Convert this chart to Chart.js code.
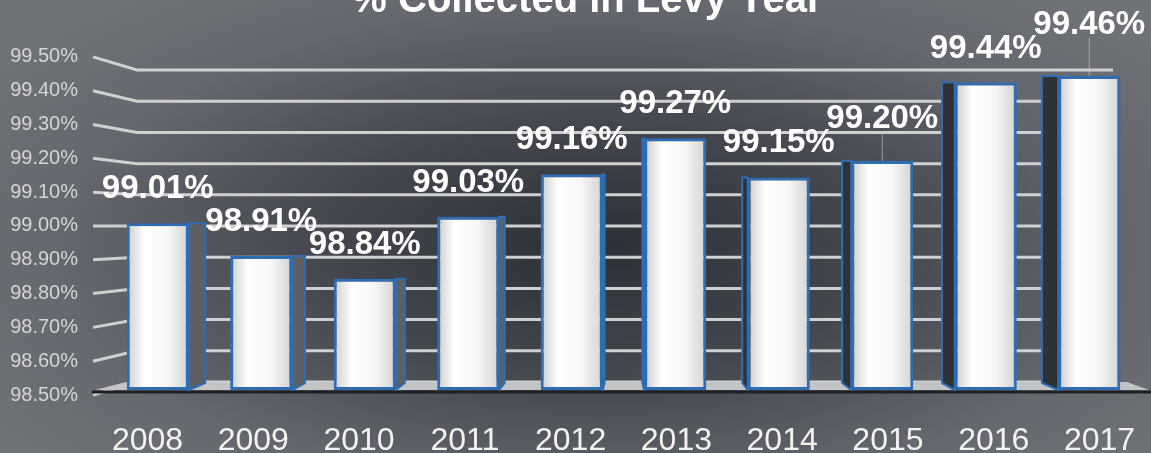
<!DOCTYPE html>
<html>
<head>
<meta charset="utf-8">
<script src="https://cdn.jsdelivr.net/npm/chart.js@4.4.0/dist/chart.umd.min.js"></script>
<style>
  html, body { margin: 0; padding: 0; }
  body {
    width: 1151px; height: 453px; overflow: hidden;
    background: radial-gradient(ellipse 62% 72% at 52% 55%, #2c2f35 0%, #45484e 40%, #64676d 75%, #6f7277 100%);
  }
  canvas { display: block; }
</style>
</head>
<body>
<canvas id="levyChart" width="1151" height="453"></canvas>
<script>
const titleText = "% Collected in Levy Year";
const years = ["2008", "2009", "2010", "2011", "2012", "2013", "2014", "2015", "2016", "2017"];
const collected = [99.01, 98.91, 98.84, 99.03, 99.16, 99.27, 99.15, 99.20, 99.44, 99.46];
const yTicks = [98.5, 98.6, 98.7, 98.8, 98.9, 99.0, 99.1, 99.2, 99.3, 99.4, 99.5];

const ctx = document.getElementById("levyChart").getContext("2d");
const FONT = "'Liberation Sans', Arial, sans-serif";

// back wall and front label plane, both derived from the y scale
const wallY = (chart, v) => {
  const base = chart.chartArea.bottom;
  return base - 8 + (chart.scales.y.getPixelForValue(v) - base) * 0.954;
};
const frontY = (chart, v) => {
  const base = chart.chartArea.bottom;
  return base + 5 + (chart.scales.y.getPixelForValue(v) - base) * 1.034;
};

const barFill = (c) => {
  const chart = c.chart;
  if (!chart.chartArea || c.dataIndex === undefined) return "#f2f2f2";
  const x = chart.scales.x.getPixelForValue(c.dataIndex);
  const half = chart.scales.x.width / years.length * 0.3;
  const g = chart.ctx.createLinearGradient(x - half, 0, x + half, 0);
  g.addColorStop(0, "#cbcbcd");
  g.addColorStop(0.28, "#ffffff");
  g.addColorStop(0.65, "#f7f7f7");
  g.addColorStop(1, "#d3d3d5");
  return g;
};

const scenery = {
  id: "scenery",
  beforeDatasetsDraw(chart) {
    const c = chart.ctx;
    const { left: L, right: R, bottom: B } = chart.chartArea;
    c.save();
    // perspective grid
    c.strokeStyle = "#cfd0d2";
    c.lineWidth = 3;
    yTicks.forEach(v => {
      c.beginPath();
      c.moveTo(L - 13, frontY(chart, v));
      c.lineTo(L + 31, wallY(chart, v));
      c.lineTo(R - 28, wallY(chart, v));
      c.stroke();
    });
    // floor
    c.fillStyle = "#c3c4c6";
    c.beginPath();
    c.moveTo(L - 11, B);
    c.lineTo(L + 20, B - 8);
    c.lineTo(R - 14, B - 8);
    c.lineTo(R + 8, B);
    c.closePath();
    c.fill();
    c.strokeStyle = "#1f2023";
    c.lineWidth = 3;
    c.beginPath();
    c.moveTo(L - 14, B + 2);
    c.lineTo(chart.width, B + 2);
    c.stroke();
    // bar sides
    const vx = (L + R) / 2;
    c.lineJoin = "round";
    chart.getDatasetMeta(0).data.forEach(bar => {
      const s = (vx - bar.x) * 0.035;
      if (Math.abs(s) < 1) return;
      const edge = s > 0 ? bar.x + bar.width / 2 : bar.x - bar.width / 2;
      c.fillStyle = s > 0 ? "#5d5f63" : "#2f3135";
      c.strokeStyle = "#2e6db4";
      c.lineWidth = 2;
      c.beginPath();
      c.moveTo(edge, bar.y);
      c.lineTo(edge + s, bar.y);
      c.lineTo(edge + s, B - 7);
      c.lineTo(edge, B);
      c.closePath();
      c.fill();
      c.stroke();
    });
    c.restore();
  },
  afterDatasetsDraw(chart) {
    const c = chart.ctx;
    const { left: L, right: R, bottom: B } = chart.chartArea;
    c.save();
    // title (sits partly above the picture)
    c.fillStyle = "#ffffff";
    c.textAlign = "center";
    c.textBaseline = "alphabetic";
    c.font = "bold 40px " + FONT;
    c.fillText(titleText, 587, 12);
    // y tick labels
    c.font = "20px " + FONT;
    c.fillStyle = "#d4d5d7";
    c.textAlign = "right";
    c.textBaseline = "middle";
    yTicks.forEach(v => c.fillText(v.toFixed(2) + "%", L - 28, frontY(chart, v)));
    // x labels
    const cx = (L + R) / 2;
    c.font = "32px " + FONT;
    c.fillStyle = "#f2f2f2";
    c.textAlign = "center";
    c.textBaseline = "alphabetic";
    years.forEach((yr, i) => {
      const px = chart.scales.x.getPixelForValue(i);
      c.fillText(yr, cx + (px - cx) * 1.022, B + 60);
    });
    // value labels, lifted when they would collide with the previous one
    c.font = "bold 33px " + FONT;
    c.fillStyle = "#ffffff";
    let prev = null;
    chart.getDatasetMeta(0).data.forEach((bar, i) => {
      const text = collected[i].toFixed(2) + "%";
      const w = c.measureText(text).width;
      let baseY = bar.y - 25;
      let lifted = false;
      if (prev && bar.x - w / 2 < prev.right && baseY - 20 < prev.baseY && baseY > prev.baseY - 20) {
        baseY = prev.baseY - 24;
        lifted = true;
      }
      if (lifted) {
        c.strokeStyle = "rgba(200,200,200,0.6)";
        c.lineWidth = 1;
        c.beginPath();
        c.moveTo(bar.x, baseY + 4);
        c.lineTo(bar.x, bar.y);
        c.stroke();
      }
      c.fillText(text, bar.x, baseY);
      prev = { right: bar.x + w / 2, baseY };
    });
    c.restore();
  }
};

const levyChart = new Chart(ctx, {
  type: "bar",
  data: {
    labels: years,
    datasets: [{
      label: titleText,
      data: collected,
      base: 98.5,
      backgroundColor: barFill,
      borderColor: "#2e6db4",
      borderWidth: 3,
      borderSkipped: false,
      barPercentage: 0.6,
      categoryPercentage: 1.0
    }]
  },
  options: {
    responsive: false,
    animation: false,
    devicePixelRatio: 1,
    layout: { padding: { left: 106, right: 10, top: 63, bottom: 63 } },
    scales: {
      x: { display: false },
      y: { display: false, min: 98.5, max: 99.5 }
    },
    plugins: {
      legend: { display: false },
      tooltip: { enabled: false }
    }
  },
  plugins: [scenery]
});
</script>
</body>
</html>
